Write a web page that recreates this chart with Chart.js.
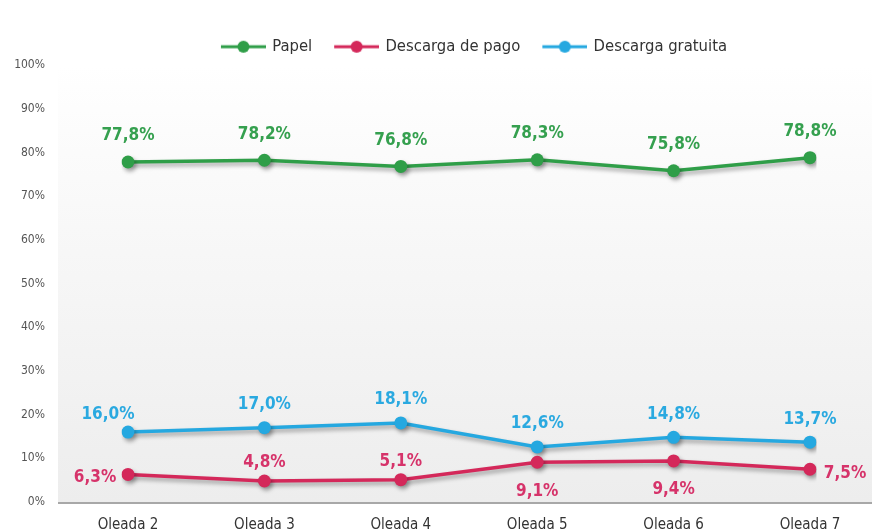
<!DOCTYPE html>
<html>
<head>
<meta charset="utf-8">
<script src="https://cdn.jsdelivr.net/npm/chart.js@4"></script>
<style>
  html, body { margin: 0; padding: 0; background: #ffffff; }
  #wrap { width: 872px; height: 532px; }
</style>
</head>
<body>
<div id="wrap"><canvas id="c" width="872" height="532"></canvas></div>
<script>
const categories = ['Oleada 2', 'Oleada 3', 'Oleada 4', 'Oleada 5', 'Oleada 6', 'Oleada 7'];
const papel = [77.8, 78.2, 76.8, 78.3, 75.8, 78.8];
const descargaPago = [6.3, 4.8, 5.1, 9.1, 9.4, 7.5];
const descargaGratuita = [16.0, 17.0, 18.1, 12.6, 14.8, 13.7];
const seriesNames = ['Papel', 'Descarga de pago', 'Descarga gratuita'];
const yTickValues = [0, 10, 20, 30, 40, 50, 60, 70, 80, 90, 100];

const FONT = "'Liberation Sans Narrow', 'DejaVu Sans Condensed', 'Roboto', sans-serif";
const GREEN = '#2f9e48';
const RED = '#d4285a';
const BLUE = '#25a8e0';

function legendIcon(color) {
  const cv = document.createElement('canvas');
  cv.width = 57; cv.height = 16;
  const c = cv.getContext('2d');
  c.strokeStyle = color; c.lineWidth = 3;
  c.beginPath(); c.moveTo(12, 8); c.lineTo(57, 8); c.stroke();
  c.fillStyle = color;
  c.beginPath(); c.arc(34.5, 8, 6, 0, Math.PI * 2); c.fill();
  return cv;
}

const fmt = v => v.toFixed(1).replace('.', ',') + '%';

const bgPlugin = {
  id: 'bg',
  beforeDraw(chart) {
    const { ctx, chartArea } = chart;
    const g = ctx.createLinearGradient(0, chartArea.top, 0, chartArea.bottom);
    g.addColorStop(0, '#ffffff');
    g.addColorStop(0.2, '#fbfbfb');
    g.addColorStop(1, '#ededed');
    ctx.save();
    ctx.fillStyle = g;
    ctx.fillRect(58, chartArea.top, chart.width - 58, chartArea.bottom - chartArea.top);
    ctx.strokeStyle = '#a8a8a8';
    ctx.lineWidth = 2;
    ctx.beginPath();
    ctx.moveTo(58, chartArea.bottom + 1);
    ctx.lineTo(chart.width, chartArea.bottom + 1);
    ctx.stroke();
    ctx.restore();
  }
};

const shadowPlugin = {
  id: 'shadow',
  beforeDatasetsDraw(chart) {
    const ctx = chart.ctx;
    ctx.save();
    ctx.shadowColor = 'rgba(0,0,0,0.35)';
    ctx.shadowBlur = 4;
    ctx.shadowOffsetX = 2;
    ctx.shadowOffsetY = 3;
  },
  afterDatasetsDraw(chart) {
    chart.ctx.restore();
  }
};

const labelPlugin = {
  id: 'valueLabels',
  afterDatasetsDraw(chart) {
    const ctx = chart.ctx;
    ctx.save();
    ctx.font = "bold 17px " + FONT;
    ctx.textAlign = 'center';
    ctx.textBaseline = 'middle';
    chart.data.datasets.forEach((ds, di) => {
      const meta = chart.getDatasetMeta(di);
      meta.data.forEach((pt, i) => {
        const pos = ds.labelPos[i];
        let dx = 0, dy = 0;
        if (pos === 'top') dy = ds.labelTop;
        else if (pos === 'bottom') dy = 29;
        else if (pos === 'left') { dx = -33; dy = 3; }
        else if (pos === 'right') { dx = 35; dy = 4; }
        else if (pos === 'topleft') { dx = -20; dy = -18; }
        ctx.fillStyle = ds.labelColor;
        ctx.fillText(fmt(ds.data[i]), pt.x + dx, pt.y + dy);
      });
    });
    ctx.restore();
  }
};

new Chart(document.getElementById('c'), {
  type: 'line',
  data: {
    labels: categories,
    datasets: [
      {
        label: seriesNames[0], data: papel, borderColor: GREEN, backgroundColor: GREEN,
        labelColor: '#35a04f', labelTop: -26,
        labelPos: ['top', 'top', 'top', 'top', 'top', 'top']
      },
      {
        label: seriesNames[1], data: descargaPago, borderColor: RED, backgroundColor: RED,
        labelColor: '#d6336a', labelTop: -18,
        labelPos: ['left', 'top', 'top', 'bottom', 'bottom', 'right']
      },
      {
        label: seriesNames[2], data: descargaGratuita, borderColor: BLUE, backgroundColor: BLUE,
        labelColor: '#2aa9e0', labelTop: -23,
        labelPos: ['topleft', 'top', 'top', 'top', 'top', 'top']
      }
    ]
  },
  options: {
    responsive: false,
    animation: false,
    devicePixelRatio: 1,
    layout: { padding: { left: 0, right: 62, top: 0, bottom: 0 } },
    elements: {
      line: { borderWidth: 3.5, tension: 0 },
      point: { radius: 6.5, hoverRadius: 6.5, pointStyle: 'circle', borderWidth: 0 }
    },
    plugins: {
      tooltip: { enabled: false },
      legend: {
        position: 'top',
        fullSize: false,
        labels: {
          usePointStyle: true,
          pointStyleWidth: 53,
          padding: 12,
          color: '#333333',
          font: { family: FONT, size: 16.5 },
          generateLabels(chart) {
            return chart.data.datasets.map((ds, i) => ({
              text: ds.label,
              pointStyle: legendIcon(ds.borderColor),
              fillStyle: ds.borderColor,
              strokeStyle: ds.borderColor,
              lineWidth: 0,
              fontColor: '#333333',
              hidden: false,
              datasetIndex: i
            }));
          }
        }
      }
    },
    scales: {
      x: {
        type: 'category',
        offset: false,
        grid: { display: false, drawTicks: false },
        border: { display: false },
        ticks: { color: '#333333', padding: 14, font: { family: FONT, size: 15 } },
        afterFit(s) { s.height = 30; }
      },
      y: {
        min: 0, max: 100,
        afterBuildTicks(s) { s.ticks = yTickValues.map(v => ({ value: v })); },
        grid: { display: false, drawTicks: false },
        border: { display: false },
        ticks: {
          color: '#555555', padding: 83,
          font: { family: FONT, size: 12 },
          callback: v => v + '%'
        },
        afterFit(s) { s.width = 128; s.paddingTop = 65; s.paddingBottom = 0; }
      }
    }
  },
  plugins: [bgPlugin, shadowPlugin, labelPlugin]
});
</script>
</body>
</html>
